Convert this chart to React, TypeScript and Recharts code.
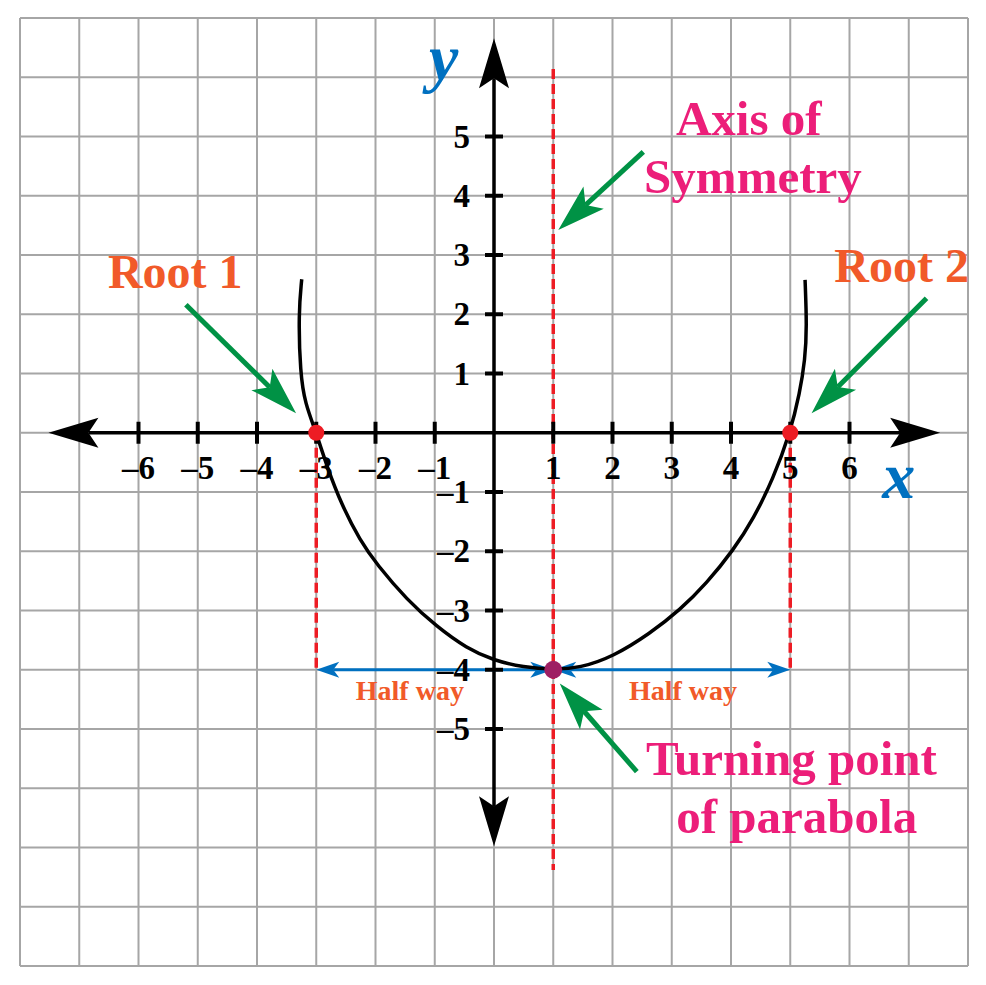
import React from 'react'
import { ComposedChart, XAxis, YAxis, CartesianGrid, Line, ReferenceLine, ReferenceDot } from 'recharts'

const gridX = [-8, -7, -6, -5, -4, -3, -2, -1, 0, 1, 2, 3, 4, 5, 6, 7, 8]
const gridY = [-9, -8, -7, -6, -5, -4, -3, -2, -1, 0, 1, 2, 3, 4, 5, 6, 7]
const xTicks = [-6, -5, -4, -3, -2, -1, 1, 2, 3, 4, 5, 6]
const yTicks = [-5, -4, -3, -2, -1, 1, 2, 3, 4, 5]

// curve
const parabola = [
  { x: -3.245, y: 2.59 },
  { x: -3.3, y: 2.02 },
  { x: -3.27, y: 1.0 },
  { x: -3.19, y: 0.5 },
  { x: -3.0, y: 0 },
  { x: -2.82, y: -0.57 },
  { x: -2.57, y: -1.22 },
  { x: -2.26, y: -1.82 },
  { x: -1.98, y: -2.22 },
  { x: -1.47, y: -2.82 },
  { x: -0.97, y: -3.27 },
  { x: -0.46, y: -3.64 },
  { x: -0.01, y: -3.84 },
  { x: 0.5, y: -3.96 },
  { x: 1, y: -4 },
  { x: 1.45, y: -3.97 },
  { x: 2.01, y: -3.78 },
  { x: 2.63, y: -3.39 },
  { x: 3.14, y: -2.99 },
  { x: 3.59, y: -2.54 },
  { x: 4.04, y: -1.98 },
  { x: 4.38, y: -1.45 },
  { x: 4.71, y: -0.78 },
  { x: 5.0, y: 0 },
  { x: 5.16, y: 0.67 },
  { x: 5.25, y: 1.23 },
  { x: 5.28, y: 1.79 },
  { x: 5.25, y: 2.58 },
]

const roots = [{ x: -3, y: 0 }, { x: 5, y: 0 }]
const vertex = { x: 1, y: -4 }

const xAxisEnds = [{ x: -7.52, y: 0 }, { x: 7.53, y: 0 }]
const yAxisEnds = [{ x: 0, y: -6.98 }, { x: 0, y: 6.66 }]
const symmetryEnds = [{ x: 1, y: 6.14 }, { x: 1, y: -7.38 }]
const rootDrops = [
  [{ x: -3, y: 0 }, { x: -3, y: -4 }],
  [{ x: 5, y: 0 }, { x: 5, y: -4 }],
]
const halfWays = [
  [{ x: -3, y: -4 }, { x: 1, y: -4 }],
  [{ x: 1, y: -4 }, { x: 5, y: -4 }],
]
// tail -> tip
const pointers = [
  [{ x: -5.2, y: 2.16 }, { x: -3.34, y: 0.33 }],
  [{ x: 7.3, y: 2.27 }, { x: 5.36, y: 0.33 }],
  [{ x: 2.52, y: 4.74 }, { x: 1.085, y: 3.42 }],
  [{ x: 2.41, y: -5.72 }, { x: 1.11, y: -4.23 }],
]

const rootLabels = [
  { x: -5.38, y: 2.44, text: 'Root 1' },
  { x: 6.88, y: 2.54, text: 'Root 2' },
]
const pinkLabels = [
  { x: 4.3, y: 5.02, text: 'Axis of' },
  { x: 4.37, y: 4.05, text: 'Symmetry' },
  { x: 5.02, y: -5.78, text: 'Turning point' },
  { x: 5.11, y: -6.76, text: 'of parabola' },
]
const halfLabels = [
  { x: -1.42, y: -4.51, text: 'Half way' },
  { x: 3.19, y: -4.51, text: 'Half way' },
]
const axisNames = [
  { x: -0.85, y: 5.95, text: 'y' },
  { x: 6.83, y: -1.1, text: 'x' },
]

const SERIF = '"Liberation Serif", "Times New Roman", serif'
const ORANGE = '#F15A29'
const PINK = '#EC1E79'
const GREEN = '#009245'
const BLUE = '#0070C0'
const RED = '#ED1C24'
const PURPLE = '#9E1F63'

function arrowShape(color: string, width: number, len: number, half: number, notch: number, ends: 'end' | 'both') {
  return (p: any) => {
    const { x1, y1, x2, y2 } = p
    const dx = x2 - x1
    const dy = y2 - y1
    const d = Math.hypot(dx, dy) || 1
    const ux = dx / d
    const uy = dy / d
    const head = (tx: number, ty: number, vx: number, vy: number) => {
      const bx = tx - vx * len
      const by = ty - vy * len
      const nx = -vy
      const ny = vx
      const mx = tx - vx * (len - notch)
      const my = ty - vy * (len - notch)
      return `M${tx},${ty} L${bx + nx * half},${by + ny * half} L${mx},${my} L${bx - nx * half},${by - ny * half} Z`
    }
    const back = len - notch
    const sx = ends === 'both' ? x1 + ux * back : x1
    const sy = ends === 'both' ? y1 + uy * back : y1
    const ex = x2 - ux * back
    const ey = y2 - uy * back
    return (
      <g>
        <line x1={sx} y1={sy} x2={ex} y2={ey} stroke={color} strokeWidth={width} />
        <path d={head(x2, y2, ux, uy)} fill={color} />
        {ends === 'both' && <path d={head(x1, y1, -ux, -uy)} fill={color} />}
      </g>
    )
  }
}

function textShape(text: string, color: string, size: number, italic = false) {
  return (p: any) => (
    <text
      x={p.cx}
      y={p.cy}
      textAnchor="middle"
      fill={color}
      fontFamily={SERIF}
      fontWeight="bold"
      fontStyle={italic ? 'italic' : 'normal'}
      fontSize={size}
    >
      {text}
    </text>
  )
}

const fmt = (v: number) => (v < 0 ? '\u2013' + Math.abs(v) : String(v))

export default function App() {
  return (
    <ComposedChart width={970} height={970} margin={{ top: 10, right: 10, bottom: 12, left: 12 }}>
      <XAxis type="number" dataKey="x" domain={[-8, 8]} ticks={gridX} interval={0} hide allowDataOverflow />
      <YAxis type="number" dataKey="y" domain={[-9, 7]} ticks={gridY} interval={0} hide allowDataOverflow />
      <CartesianGrid stroke="#A6A6A6" strokeWidth={2} />

      <ReferenceLine
        segment={symmetryEnds}
        stroke={RED}
        strokeWidth={3.5}
        strokeDasharray="10 5"
      />
      {rootDrops.map((s, i) => (
        <ReferenceLine key={'drop' + i} segment={s} stroke={RED} strokeWidth={3.5} strokeDasharray="10 5" />
      ))}

      <ReferenceLine segment={xAxisEnds} shape={arrowShape('#000', 3.5, 50, 15, 10, 'both')} />
      <ReferenceLine segment={yAxisEnds} shape={arrowShape('#000', 3.5, 50, 15, 10, 'both')} />

      {xTicks.map(v => (
        <ReferenceDot
          key={'xt' + v}
          x={v}
          y={0}
          r={0}
          shape={(p: any) => (
            <g>
              <line x1={p.cx} y1={p.cy - 11} x2={p.cx} y2={p.cy + 11} stroke="#000" strokeWidth={4} />
              <text x={p.cx} y={p.cy + 46} textAnchor="middle" fontFamily={SERIF} fontWeight="bold" fontSize={33} fill="#000">
                {fmt(v)}
              </text>
            </g>
          )}
        />
      ))}
      {yTicks.map(v => (
        <ReferenceDot
          key={'yt' + v}
          x={0}
          y={v}
          r={0}
          shape={(p: any) => (
            <g>
              <line x1={p.cx - 9} y1={p.cy} x2={p.cx + 9} y2={p.cy} stroke="#000" strokeWidth={4} />
              <text x={p.cx - 24} y={p.cy + 11} textAnchor="end" fontFamily={SERIF} fontWeight="bold" fontSize={33} fill="#000">
                {fmt(v)}
              </text>
            </g>
          )}
        />
      ))}

      {halfWays.map((s, i) => (
        <ReferenceLine key={'hw' + i} segment={s} shape={arrowShape(BLUE, 3, 23, 8, 6, 'both')} />
      ))}

      <Line
        data={parabola}
        dataKey="y"
        type="basis"
        stroke="#000"
        strokeWidth={3.5}
        dot={false}
        activeDot={false}
        isAnimationActive={false}
      />

      {pointers.map((s, i) => (
        <ReferenceLine key={'pt' + i} segment={s} shape={arrowShape(GREEN, 5, 48, 15, 11, 'end')} />
      ))}

      {roots.map((r, i) => (
        <ReferenceDot key={'root' + i} x={r.x} y={r.y} r={8} fill={RED} stroke="none" />
      ))}
      <ReferenceDot x={vertex.x} y={vertex.y} r={9} fill={PURPLE} stroke="none" />

      {rootLabels.map((l, i) => (
        <ReferenceDot key={'rl' + i} x={l.x} y={l.y} r={0} shape={textShape(l.text, ORANGE, 48)} />
      ))}
      {pinkLabels.map((l, i) => (
        <ReferenceDot key={'pl' + i} x={l.x} y={l.y} r={0} shape={textShape(l.text, PINK, 49)} />
      ))}
      {halfLabels.map((l, i) => (
        <ReferenceDot key={'hl' + i} x={l.x} y={l.y} r={0} shape={textShape(l.text, ORANGE, 28)} />
      ))}
      {axisNames.map((l, i) => (
        <ReferenceDot key={'an' + i} x={l.x} y={l.y} r={0} shape={textShape(l.text, BLUE, 66, true)} />
      ))}
    </ComposedChart>
  )
}
